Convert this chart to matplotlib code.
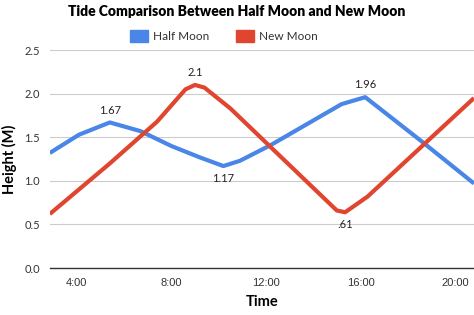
import matplotlib.pyplot as plt
from matplotlib.patches import Rectangle

# hours of the day and heights (m)
half_hours = [2.86, 4.1, 5.4, 6.7, 8.0, 9.2, 10.2, 10.9, 12.2, 15.2, 16.2, 18.6, 20.8]
half_vals = [1.32, 1.53, 1.67, 1.57, 1.40, 1.27, 1.17, 1.23, 1.41, 1.88, 1.96, 1.45, 0.97]
new_hours = [2.86, 5.4, 7.4, 8.6, 9.0, 9.4, 10.5, 15.0, 15.35, 16.3, 20.8]
new_vals = [0.62, 1.20, 1.68, 2.05, 2.10, 2.07, 1.83, 0.66, 0.64, 0.82, 1.95]

xticks = [4, 8, 12, 16, 20]
xtick_labels = ["4:00", "8:00", "12:00", "16:00", "20:00"]
yticks = [0.0, 0.5, 1.0, 1.5, 2.0, 2.5]

# (x, y, text, vertical alignment)
annotations = [(5.4, 1.67, "1.67", "bottom"), (9.0, 2.10, "2.1", "bottom"),
               (10.2, 1.17, "1.17", "top"), (16.2, 1.96, "1.96", "bottom"),
               (15.35, 0.64, ".61", "top")]

blue = "#4a86e8"
red = "#e0452f"

fig = plt.figure(figsize=(4.74, 3.15), dpi=100)
ax = fig.add_axes([0.105, 0.149, 0.895, 0.692])

ax.plot(half_hours, half_vals, color=blue, lw=3, solid_joinstyle="round", solid_capstyle="butt")
ax.plot(new_hours, new_vals, color=red, lw=3, solid_joinstyle="round", solid_capstyle="butt")

for x, y, t, va in annotations:
    off = 5 if va == "bottom" else -5
    ax.annotate(t, (x, y), xytext=(0, off), textcoords="offset points",
                ha="center", va=va, fontsize=8, family="Lato", color="#222222")

ax.set_xlim(2.86, 20.8)
ax.set_ylim(0, 2.5)
ax.set_xticks(xticks)
ax.set_xticklabels(xtick_labels, family="Liberation Sans", fontsize=8, color="#333333")
ax.set_yticks(yticks)
ax.set_yticklabels([f"{v:.1f}" for v in yticks], family="Lato", fontsize=8, color="#333333")
ax.tick_params(length=0, pad=7)
ax.grid(axis="y", color="#cccccc", lw=0.8)
ax.set_axisbelow(True)
for s in ["top", "right", "left"]:
    ax.spines[s].set_visible(False)
ax.spines["bottom"].set_color("#333333")
ax.spines["bottom"].set_linewidth(1)

ax.set_xlabel("Time", family="Lato", fontweight="bold", fontsize=10.5, labelpad=5)
ax.set_ylabel("Height (M)", family="Lato", fontweight="bold", fontsize=10.5, labelpad=5)

fig.text(0.5, 0.962, "Tide Comparison Between Half Moon and New Moon", ha="center", va="center",
         family="Lato", fontweight="heavy", fontsize=10)

# legend
fig.patches.append(Rectangle((130 / 474, 1 - 42 / 315), 18 / 474, 12 / 315, color=blue,
                             transform=fig.transFigure))
fig.text(153 / 474, 1 - 36 / 315, "Half Moon", va="center", family="Lato", fontsize=8.5, color="#333333")
fig.patches.append(Rectangle((236 / 474, 1 - 42 / 315), 18 / 474, 12 / 315, color=red,
                             transform=fig.transFigure))
fig.text(259 / 474, 1 - 36 / 315, "New Moon", va="center", family="Lato", fontsize=8.5, color="#333333")

fig.savefig("out.png", dpi=100)
